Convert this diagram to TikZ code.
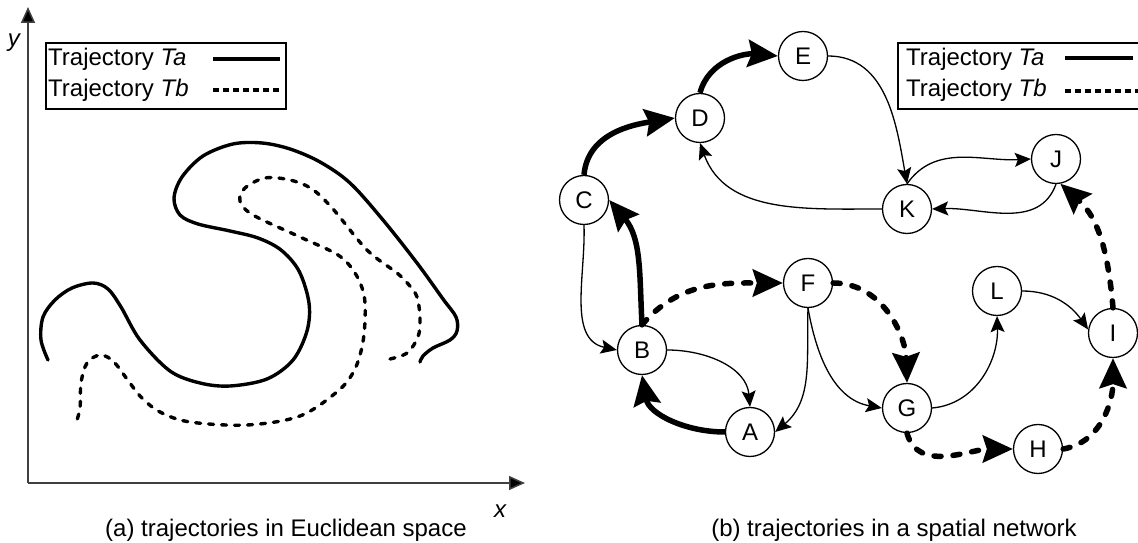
\documentclass[tikz,border=0pt]{standalone}
\usepackage{fontspec}
\setmainfont{Liberation Sans}
\usetikzlibrary{arrows.meta}
\begin{document}
\begin{tikzpicture}[x=1pt,y=1pt,
  every node/.style={font=\fontsize{24}{28}\selectfont},
  vertex/.style={circle,draw,line width=1.3pt,minimum size=49pt,inner sep=0pt,fill=white},
  link/.style={line width=1.3pt,-{Stealth[length=16pt,width=14pt,inset=3pt]}},
  pathA/.style={line width=5.5pt,-{Stealth[length=30pt,width=27pt,inset=4pt]}},
  pathB/.style={line width=5.5pt,line cap=round,dash pattern=on 7pt off 12pt,
                -{Stealth[length=30pt,width=27pt,inset=4pt]}},
  axis/.style={line width=1.5pt,draw=black!75,-{Triangle[length=16pt,width=14pt,fill=black]}},
  legendbox/.style={draw,line width=1.3pt},
  legendtext/.style={anchor=base west,inner sep=0pt},
  curveA/.style={line width=3.4pt,line cap=round},
  curveB/.style={line width=3.4pt,line cap=round,dash pattern=on 5pt off 8pt}]

\useasboundingbox (0,0) rectangle (1138,543);
\clip (0,0) rectangle (1138,543);

% ---------- (a) trajectories in Euclidean space ----------
\coordinate (O) at (28,60);
\coordinate (Ytip) at (28,536);
\coordinate (Xtip) at (525,60);
\draw[axis] (O) -- (Ytip);
\draw[axis] (O) -- (Xtip);
\node[font=\fontsize{24}{28}\selectfont\itshape] (ylab) at (14,500) {y};
\node[font=\fontsize{24}{28}\selectfont\itshape] (xlab) at (500,32) {x};

% legend
\draw[legendbox] (46,434) rectangle (286,500);
\node[legendtext] (la) at (48,477) {Trajectory \textit{Ta}};
\node[legendtext] (lb) at (48,446) {Trajectory \textit{Tb}};
\draw[line width=3.6pt] (213,484) -- (280,484);
\draw[line width=3.2pt,dash pattern=on 6pt off 4pt] (213,453) -- (280,453);

% trajectory Ta
\draw[curveA] plot[smooth,tension=0.55] coordinates {
 (48,183) (41,203) (43,226) (55,243) (72,255) (93,260) (108,254) (121,236)
 (140,203) (170,172) (200,160) (230,157) (267,164) (293,183) (307,212)
 (309,240) (299,272) (281,293) (258,305) (230,312) (198,319) (180,328)
 (174,345) (182,366) (203,387) (233,399) (262,400) (290,394) (320,381)
 (350,360) (383,323) (417,280) (443,244) (456,226) (457,212) (450,203)
 (433,195) (423,187) (420,181)};

% trajectory Tb
\draw[curveB] plot[smooth,tension=0.55] coordinates {
 (390,184) (407,190) (418,206) (420,225) (417,246) (409,258) (397,270)
 (367,293) (333,334) (312,354) (290,363) (265,365) (245,355) (240,342)
 (253,328) (300,306) (338,288) (355,270) (364,248) (365,222) (362,196)
 (354,172) (338,152) (300,127) (247,118) (190,121) (160,131) (141,146)
 (127,164) (113,182) (100,188) (87,180) (81,160) (80,135) (76,120)};

\node[anchor=base] (capa) at (286,6) {(a) trajectories in Euclidean space};

% ---------- (b) trajectories in a spatial network ----------
\node[vertex] (A) at (750,111) {A};
\node[vertex] (B) at (642,193) {B};
\node[vertex] (C) at (584,343) {C};
\node[vertex] (D) at (700,425) {D};
\node[vertex] (E) at (803,487) {E};
\node[vertex] (F) at (808,260) {F};
\node[vertex] (G) at (907,135) {G};
\node[vertex] (H) at (1038,94) {H};
\node[vertex] (I) at (1113,210) {I};
\node[vertex] (J) at (1056,384) {J};
\node[vertex] (K) at (907,334) {K};
\node[vertex] (L) at (997,252) {L};

% road segments
\draw[link] (E.east) to[out=0,in=100] (K.north);
\draw[link] (K.west) to[out=180,in=-70] (D.south);
\draw[link] (K.north) to[out=55,in=183] (J.west);
\draw[link] (J.south) to[out=-110,in=2] (K.east);
\draw[link] (C.south) to[out=-88,in=168] (B.west);
\draw[link] (B.east) to[out=0,in=95] (A.north);
\draw[link] (F.south) to[out=-92,in=40] (A.east);
\draw[link] (F.south) to[out=-80,in=170] (G.west);
\draw[link] (G.east) to[out=5,in=-88] (L.south);
\draw[link] (L.east) to[out=0,in=125] (I.172);

% trajectory Tb
\draw[pathB] (B.north) to[out=50,in=180] (F.west);
\draw[pathB] (F.east) to[out=0,in=92] (G.north);
\draw[pathB] (G.south) to[out=-75,in=180] (H.west);
\draw[pathB] (H.east) to[out=10,in=-90] (I.south);
\draw[pathB] (I.north) to[out=95,in=-42] (J.-80);

% trajectory Ta
\draw[pathA] (A.west) to[out=180,in=-80] (B.south);
\draw[pathA] (B.north) to[out=93,in=-50] (C.east);
\draw[pathA] (C.north) to[out=85,in=189] (D.west);
\draw[pathA] (D.north) to[out=75,in=175] (E.west);

% legend
\draw[legendbox] (898,434) rectangle (1160,500);
\node[legendtext] (ra) at (906,477) {Trajectory \textit{Ta}};
\node[legendtext] (rb) at (906,446) {Trajectory \textit{Tb}};
\draw[line width=4pt] (1065,485) -- (1133,485);
\draw[line width=4pt,dash pattern=on 6pt off 4pt] (1065,452) -- (1140,452);

\node[anchor=base] (capb) at (894,6) {(b) trajectories in a spatial network};
\end{tikzpicture}
\end{document}
